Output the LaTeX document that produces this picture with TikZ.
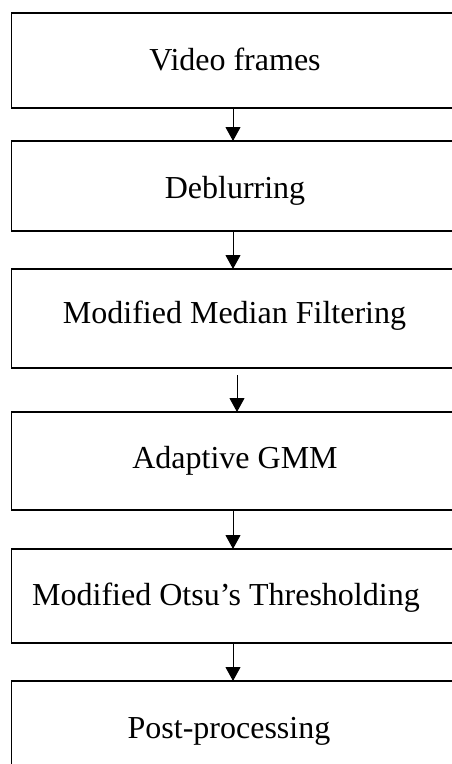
\documentclass[tikz,border=0pt]{standalone}
\usepackage{fontspec}
\setmainfont{Liberation Serif}
\usetikzlibrary{arrows.meta}
\tikzset{
  box/.style={draw=black, line width=1.6pt, rectangle, inner sep=0pt, outer sep=0pt, minimum width=448.5pt},
  lbl/.style={inner sep=0pt, font=\fontsize{32}{38}\selectfont, anchor=base},
  arr/.style={draw=black, line width=1pt, -{Triangle[width=15pt,length=14pt]}}
}
\begin{document}
\begin{tikzpicture}[x=1pt,y=-1pt]
\useasboundingbox (0,0) rectangle (452,764);
\clip (0,0) rectangle (452,764);
\fill[white] (0,0) rectangle (452,764);
% boxes
\node[box, minimum height=95pt] (b1) at (235.75,60.5) {};
\node[box, minimum height=90pt] (b2) at (235.75,186) {};
\node[box, minimum height=99pt] (b3) at (235.75,318.5) {};
\node[box, minimum height=98pt] (b4) at (235.75,461) {};
\node[box, minimum height=94pt] (b5) at (235.75,596) {};
\node[box, minimum height=109pt] (b6) at (235.75,735.5) {};
% labels
\node[lbl] (t1) at (235,70) {Video frames};
\node[lbl] (t2) at (235,198) {Deblurring};
\node[lbl] (t3) at (234.5,323) {Modified Median Filtering};
\node[lbl] (t4) at (235,468) {Adaptive GMM};
\node[lbl] (t5) at (226,605) {Modified Otsu’s Thresholding};
\node[lbl] (t6) at (229,738) {Post-processing};
% arrow columns
\coordinate (c1) at (233,0);
\coordinate (c3) at (237,375);
% connectors
\draw[arr] (b1.south -| c1) -- (b2.north -| c1);
\draw[arr] (b2.south -| c1) -- (b3.north -| c1);
\draw[arr] (c3) -- (b4.north -| c3);
\draw[arr] (b4.south -| c1) -- (b5.north -| c1);
\draw[arr] (b5.south -| c1) -- (b6.north -| c1);
\end{tikzpicture}
\end{document}
